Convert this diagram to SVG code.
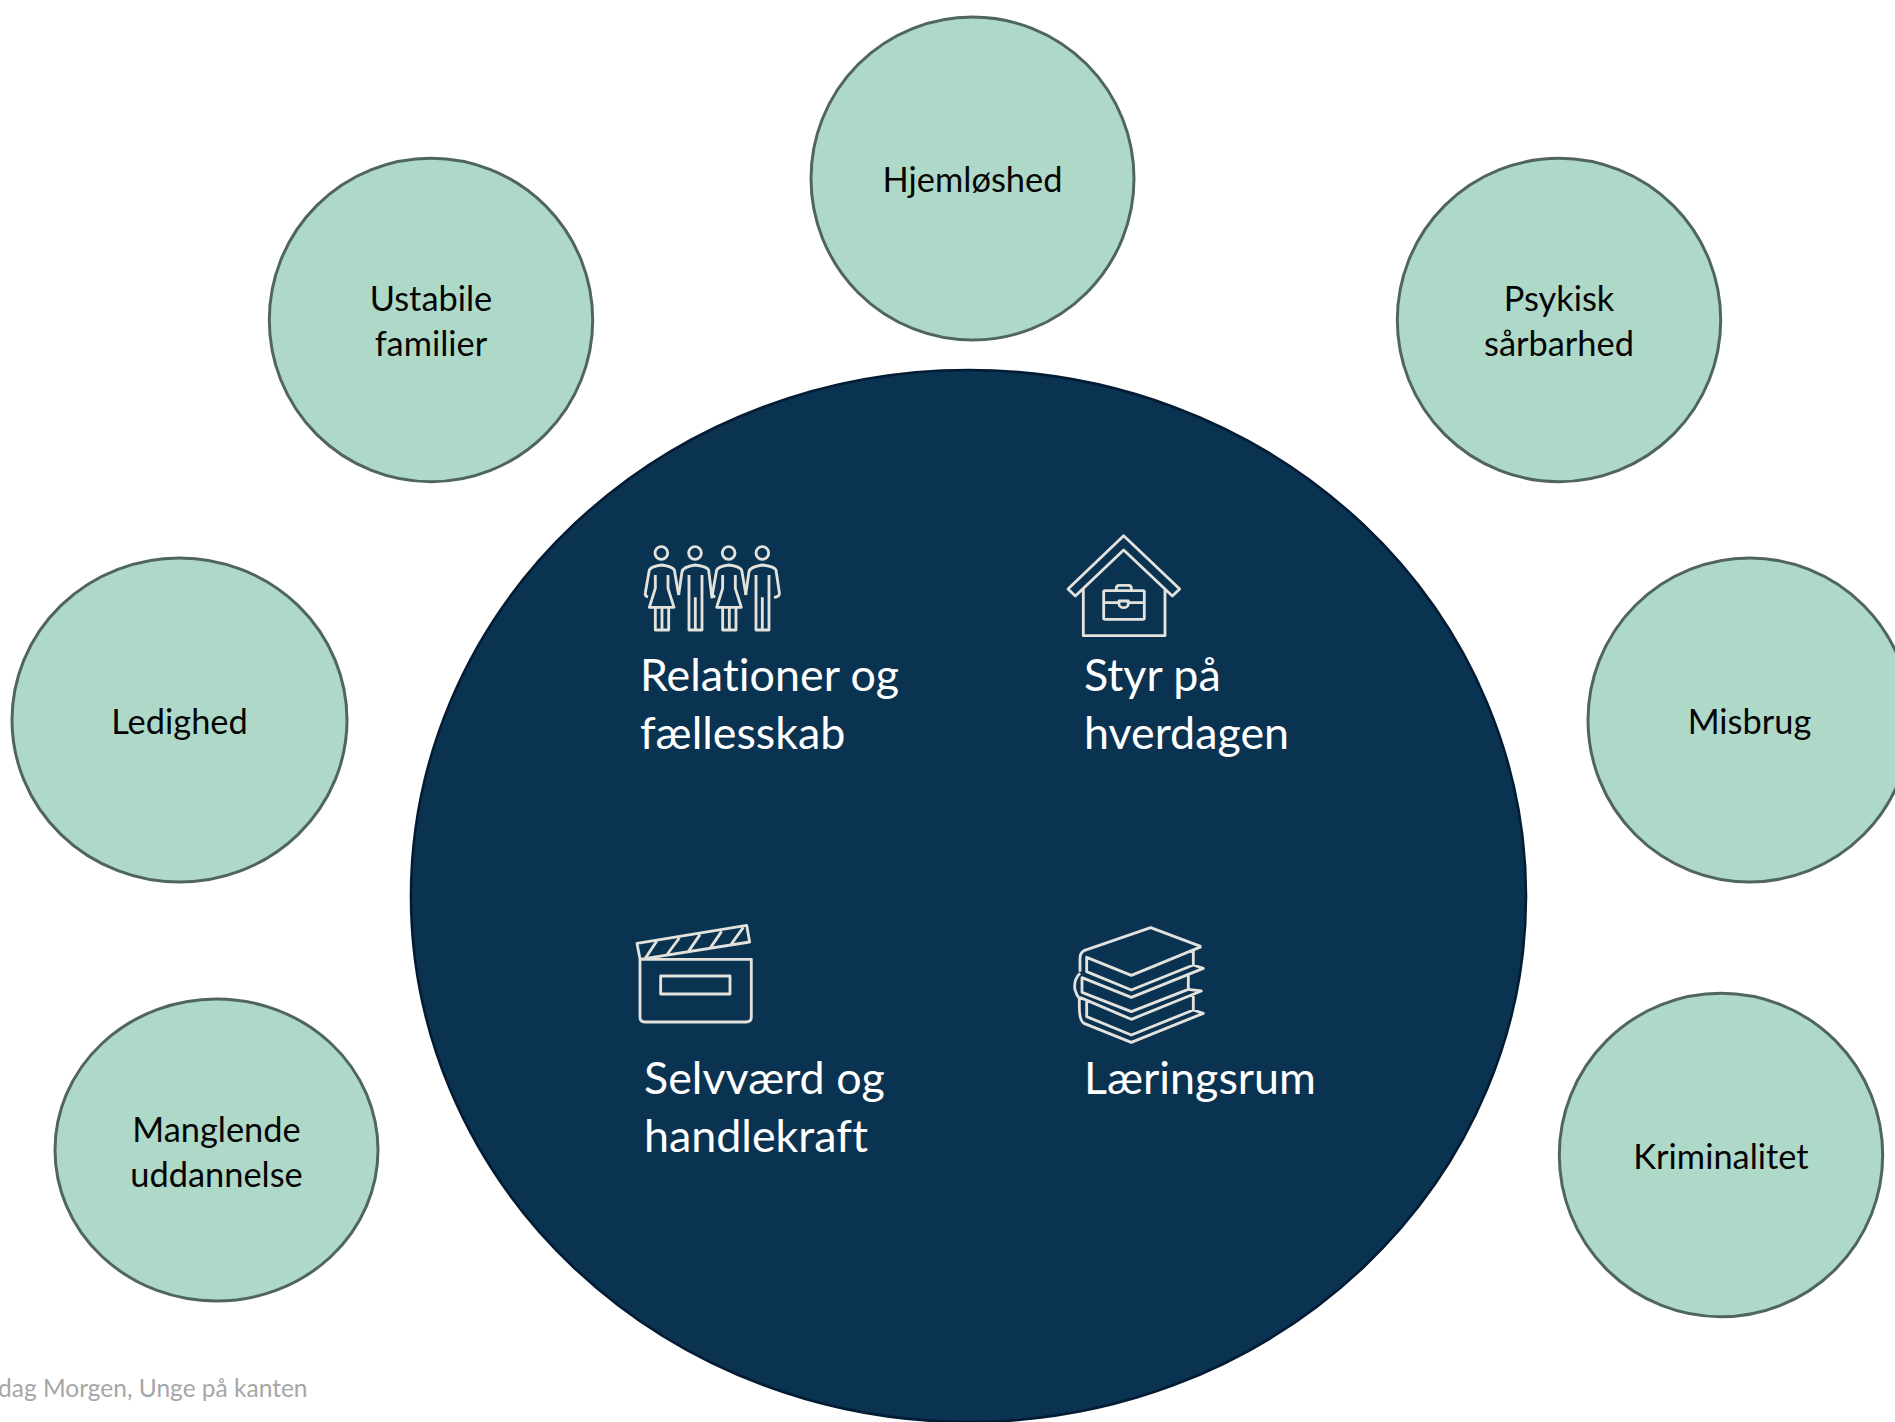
<svg xmlns="http://www.w3.org/2000/svg" width="1895" height="1422" viewBox="0 0 1895 1422">
<style>
text{font-family:"Lato","Carlito","Liberation Sans",sans-serif;font-variant-ligatures:none}
.o{fill:#aed9c8;stroke:#50665d;stroke-width:3}
.t{font-size:34.4px;fill:#050505;text-anchor:middle}
.w{font-size:44.8px;fill:#fff}
.i{fill:none;stroke:#e3e2dc;stroke-width:8.5;stroke-linejoin:round}
</style>
<defs>
<g id="woman"><circle cx="124" cy="99" r="19"/><path d="M84,231Q74,228 76,218L88,150Q92,140 125,135Q158,140 163,150L176,225M106,165V205L88,262H162L144,205V165M106,262V330H146V262M126,262V330"/></g>
<g id="man"><circle cx="225" cy="99" r="19"/><path d="M176,225L186,155Q190,140 225,135Q262,140 266,150L276,235M207,165V330H246V165M226,232V330"/></g>
</defs>
<rect width="1895" height="1422" fill="#fff"/>
<g id="center"><ellipse cx="968.5" cy="896" rx="557.5" ry="526" fill="#0a3352" stroke="#031c33" stroke-width="2.6"/></g>
<g id="hjemloshed"><circle class="o" cx="972.5" cy="178.500" r="161.500"/><text class="t" x="972.5" y="191.500">Hjemløshed</text></g>
<g id="ustabile"><circle class="o" cx="431" cy="320" r="161.700"/><text class="t" x="431" y="310.500">Ustabile</text><text class="t" x="431" y="355.500">familier</text></g>
<g id="psykisk"><circle class="o" cx="1559" cy="320" r="161.700"/><text class="t" x="1559" y="310.500">Psykisk</text><text class="t" x="1559" y="355.500">sårbarhed</text></g>
<g id="ledighed"><ellipse class="o" cx="179.5" cy="720" rx="167.5" ry="162"/><text class="t" x="179.5" y="733.500">Ledighed</text></g>
<g id="misbrug"><ellipse class="o" cx="1749.5" cy="720" rx="161.5" ry="162"/><text class="t" x="1749.5" y="733.500">Misbrug</text></g>
<g id="manglende"><ellipse class="o" cx="216.5" cy="1150" rx="161.5" ry="151"/><text class="t" x="216.5" y="1141.500">Manglende</text><text class="t" x="216.5" y="1186.500">uddannelse</text></g>
<g id="kriminalitet"><circle class="o" cx="1721" cy="1155" r="161.700"/><text class="t" x="1721" y="1168.500">Kriminalitet</text></g>
<g id="relationer"><g class="i" transform="translate(620 520) scale(.3333)"><use href="#woman"/><use href="#man"/><use href="#woman" x="202"/><path d="M377,225L387,155Q391,140 427,135Q464,140 468,150L478,218Q480,230 462,232"/><circle cx="427" cy="99" r="19"/><path d="M408,165V330H447V165M427,232V330"/></g><text class="w" x="640" y="691">Relationer og</text><text class="w" x="640" y="749">fællesskab</text></g>
<g id="styr"><g class="i" transform="translate(1050 520) scale(.3333)"><path d="M54,207L221,47L389,207L367,228L221,90L76,228ZM100,207V347H345V207"/><rect x="161" y="212" width="122" height="86" rx="4"/><path d="M199,212V205Q199,196 208,196H236Q244,196 244,205V212M161,248H207M235,248H283M207,243H235V251A14,12 0 0 1 207,251Z"/></g><text class="w" x="1084" y="691">Styr på</text><text class="w" x="1084" y="749">hverdagen</text></g>
<g id="selvvaerd"><g class="i" transform="translate(620 910) scale(.3333)"><path d="M51,100L380,46L389,96L60,148ZM76,145L110,94M140,135L178,84M205,125L240,74M270,115L305,64M332,105L370,52M60,148H394V322Q394,336 378,336H74Q60,336 60,322Z"/><rect x="122" y="198" width="208" height="54"/></g><text class="w" x="644" y="1094">Selvværd og</text><text class="w" x="644" y="1152">handlekraft</text></g>
<g id="laeringsrum"><g class="i" transform="translate(1060 910) scale(.3333)"><path d="M424,110L272,53L72,122Q60,128 60,145V185M424,110L214,196L80,142V185L214,240L400,165L430,175L214,262L66,203V247L214,305L385,238L424,243L214,328L60,262M400,120V165M385,190V238M80,275V320L214,375L400,300L430,310L214,397L72,340Q58,332 58,290V262M400,250V300M60,190Q40,210 45,240Q50,258 60,268"/></g><text class="w" x="1084" y="1094">Læringsrum</text></g>
<g id="source"><text x="307.500" y="1397" font-size="24.500" fill="#a6a6a6" text-anchor="end">dag Morgen, Unge på kanten</text></g>
<g id="connectors"></g>
</svg>
